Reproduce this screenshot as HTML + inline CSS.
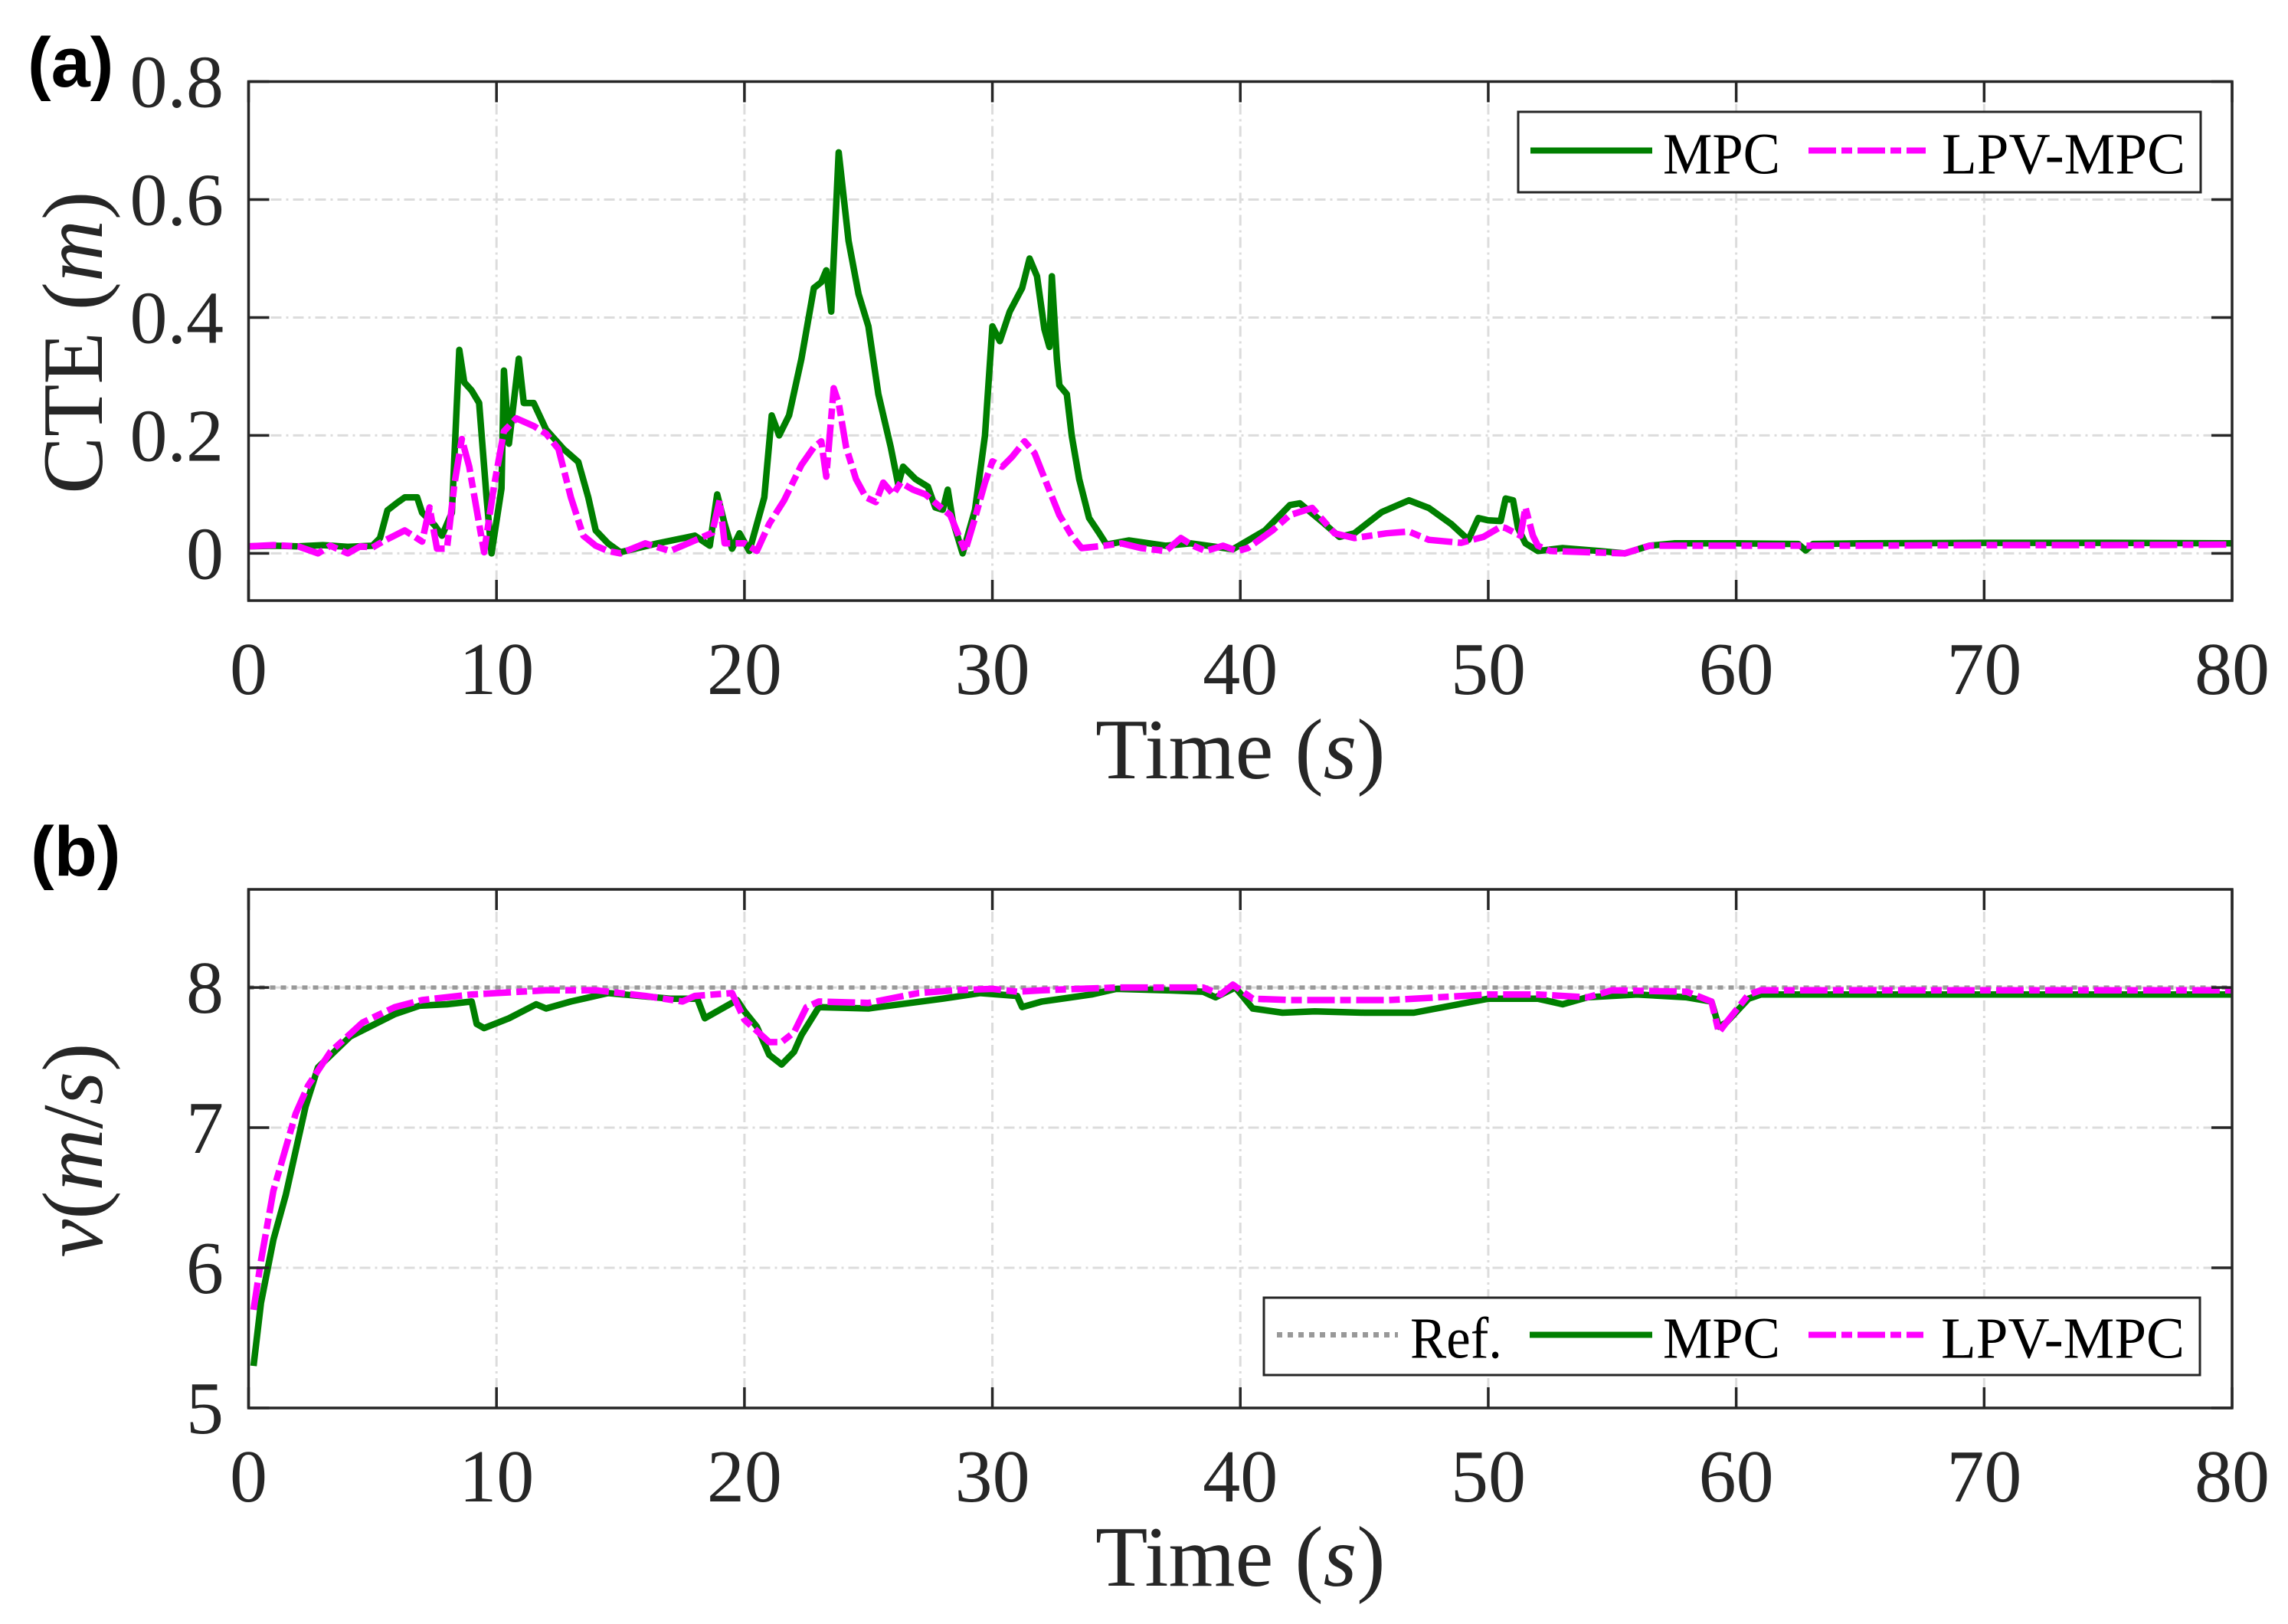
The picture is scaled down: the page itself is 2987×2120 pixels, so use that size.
<!DOCTYPE html>
<html><head><meta charset="utf-8"><style>
html,body{margin:0;padding:0;background:#fff;}
svg{display:block;}
text{font-family:"Liberation Serif",serif;fill:#262626;}
</style></head>
<body>
<svg id="fig" width="2987" height="2120" viewBox="0 0 2987 2120" xmlns="http://www.w3.org/2000/svg">
<rect x="0" y="0" width="2987" height="2120" fill="#fff"/>
<g id="pa"></g>
<g id="pb"></g>
<text x="36" y="113" style="font-family:'Liberation Sans',sans-serif;font-weight:bold;font-size:92px;fill:#000">(a)</text>
<text x="40" y="1143" style="font-family:'Liberation Sans',sans-serif;font-weight:bold;font-size:92px;fill:#000">(b)</text>
</svg>
<script>
// ---- Panel (a) data: cross-track error ----
const cteMpcT = [0,1,2,3,4,5,5.3,5.6,6,6.3,6.8,7,7.5,7.8,8.2,8.5,8.7,9,9.3,9.6,9.8,10.2,10.3,10.5,10.9,11.1,11.5,12,12.7,13.3,13.7,14,14.5,15,16.5,18,18.6,18.9,19.2,19.5,19.8,20.2,20.8,21.1,21.4,21.8,22.3,22.8,23.1,23.3,23.5,23.8,24.2,24.6,25,25.4,25.9,26.2,26.4,26.9,27.4,27.7,28,28.2,28.4,28.8,29.3,29.7,30,30.3,30.7,31.2,31.5,31.8,32.1,32.3,32.4,32.6,32.7,33,33.2,33.5,33.9,34.3,34.6,35.5,37,38,39.7,41,42,42.4,43.4,44,44.6,45.7,46.8,47.6,48.5,49.2,49.6,50,50.5,50.7,51,51.2,51.5,52,53,54.5,55.5,56.5,57.5,60,62.5,62.8,63.1,65,70,75,80];
const cteMpcV = [0.012,0.013,0.012,0.014,0.011,0.013,0.026,0.073,0.086,0.095,0.095,0.069,0.048,0.03,0.069,0.345,0.29,0.276,0.255,0.095,0.0,0.11,0.31,0.186,0.33,0.255,0.255,0.21,0.177,0.155,0.095,0.039,0.017,0.002,0.017,0.03,0.013,0.1,0.05,0.008,0.034,0.004,0.095,0.234,0.2,0.234,0.33,0.45,0.46,0.48,0.41,0.68,0.53,0.44,0.385,0.27,0.18,0.117,0.147,0.126,0.113,0.078,0.074,0.108,0.056,0.0,0.074,0.2,0.385,0.36,0.41,0.45,0.5,0.47,0.38,0.35,0.47,0.33,0.285,0.27,0.2,0.126,0.06,0.035,0.015,0.022,0.013,0.017,0.007,0.039,0.082,0.085,0.05,0.028,0.034,0.07,0.09,0.077,0.05,0.023,0.06,0.056,0.055,0.093,0.09,0.043,0.017,0.004,0.009,0.004,0.0,0.013,0.017,0.017,0.016,0.005,0.016,0.017,0.018,0.018,0.017,0.017];
const cteLpvT = [0,1,2,2.8,3.3,4,4.5,5,5.5,6.3,7,7.3,7.6,8,8.3,8.6,8.9,9.3,9.5,9.9,10.3,10.8,11.5,12,12.5,13,13.5,14,14.5,15,16,17,18,18.7,19,19.2,20,20.5,21,21.6,22.3,22.8,23.1,23.3,23.6,23.8,24.1,24.5,24.9,25.3,25.6,26,26.3,26.8,27.3,27.8,28.3,28.9,29.3,29.7,30,30.4,30.8,31.3,31.7,32.2,32.7,33.2,33.6,34.5,35.2,36,37,37.6,38.1,38.6,39.3,39.9,40.3,41.3,42,42.9,43.8,44.6,45.9,46.8,47.6,48.9,49.8,50.5,50.7,51.3,51.5,51.8,52,52.5,55.5,56.5,58,65,70,75,80];
const cteLpvV = [0.012,0.014,0.012,0.0,0.013,0.0,0.012,0.01,0.022,0.039,0.02,0.078,0.008,0.008,0.117,0.194,0.147,0.05,0.002,0.115,0.207,0.229,0.216,0.203,0.177,0.095,0.03,0.013,0.004,0.0,0.017,0.004,0.022,0.035,0.09,0.017,0.017,0.004,0.05,0.09,0.15,0.18,0.19,0.13,0.28,0.255,0.18,0.126,0.095,0.087,0.12,0.1,0.12,0.108,0.1,0.082,0.065,0.004,0.06,0.12,0.156,0.147,0.164,0.19,0.17,0.117,0.065,0.03,0.009,0.013,0.017,0.009,0.004,0.026,0.013,0.004,0.013,0.004,0.009,0.039,0.065,0.077,0.034,0.026,0.034,0.037,0.023,0.018,0.028,0.045,0.043,0.03,0.078,0.03,0.013,0.004,0.0,0.013,0.013,0.013,0.014,0.014,0.015];
const cteYTicks = [0,0.2,0.4,0.6,0.8];
const cteYLabels = ["0","0.2","0.4","0.6","0.8"];
// ---- Panel (b) data: velocity ----
const velMpcT = [0.2,0.5,1,1.5,2.3,2.8,4.1,5.9,6.9,8,9,9.2,9.5,10.5,11.6,12,13,14.5,17,18.1,18.4,19.7,20,20.5,21,21.5,22,22.3,23,25,28,29.5,31,31.2,32,34,35,37,38.5,39,39.8,40.5,41.7,43,45,47,50,52,53,54,56,58,59,59.3,59.6,60.5,61,65,70,75,80];
const velMpcV = [5.3,5.75,6.2,6.52,7.15,7.43,7.65,7.81,7.87,7.88,7.9,7.74,7.71,7.78,7.88,7.85,7.9,7.96,7.92,7.92,7.78,7.91,7.83,7.72,7.52,7.45,7.54,7.66,7.86,7.85,7.92,7.96,7.94,7.86,7.9,7.95,7.99,7.98,7.97,7.93,8.0,7.85,7.82,7.83,7.82,7.82,7.92,7.92,7.88,7.93,7.95,7.93,7.9,7.72,7.75,7.92,7.95,7.95,7.95,7.95,7.95];
const velLpvT = [0.2,0.5,1,1.9,2.4,3.3,4.6,5.9,7,9,10,12,14,16,17.5,18,19.5,20,21,21.5,22,22.5,23,25,27,28.5,30,31,32,35,38.5,39.2,39.7,40.5,42,44,46,48,50,52,54,55,58,59,59.3,59.6,60.5,61,65,70,75,80];
const velLpvV = [5.7,6.05,6.55,7.1,7.3,7.54,7.75,7.86,7.91,7.95,7.96,7.98,7.98,7.94,7.9,7.94,7.96,7.77,7.61,7.61,7.68,7.86,7.9,7.89,7.96,7.98,7.99,7.97,7.98,8.0,8.0,7.95,8.02,7.92,7.91,7.91,7.91,7.93,7.95,7.95,7.93,7.98,7.97,7.9,7.68,7.75,7.95,7.98,7.98,7.98,7.98,7.98];
const velRefT = [0,80];
const velRefV = [8,8];
const velYTicks = [5,6,7,8];
const velYLabels = ["5","6","7","8"];
const xTicks = [0,10,20,30,40,50,60,70,80];
const xLabels = ["0","10","20","30","40","50","60","70","80"];

const NS = "http://www.w3.org/2000/svg";
function mk(tag, attrs, parent){const e=document.createElementNS(NS,tag);for(const k in attrs)e.setAttribute(k,attrs[k]);parent.appendChild(e);return e;}

const X0=324.5, X1=2914;
function xs(t){return X0+(t-0)/(80-0)*(X1-X0);}
function makeY(vmin,vmax,ytop,ybot){return v=>ybot-(v-vmin)/(vmax-vmin)*(ybot-ytop);}

function drawPanel(g, ytop, ybot, vmin, vmax, yt, yl, ylabelText, series, legend){
  const ys = makeY(vmin,vmax,ytop,ybot);
  xTicks.forEach(t=>{ if(t>0&&t<80){const l=mk('line',{x1:xs(t),x2:xs(t),y1:ytop,y2:ybot,stroke:'#dcdcdc','stroke-width':3,'stroke-dasharray':'14 6 3 6'},g);
     }});
  yt.forEach(v=>{ const y=ys(v); if(y>ytop+2&&y<ybot-2){const l=mk('line',{x1:X0,x2:X1,y1:y,y2:y,stroke:'#dcdcdc','stroke-width':3,'stroke-dasharray':'14 6 3 6'},g);
     }});
  series.forEach(s=>{
    let d=''; s.t.forEach((t,i)=>{d+=(i?'L':'M')+xs(t).toFixed(1)+' '+ys(s.v[i]).toFixed(1);});
    const p=mk('path',{d:d,fill:'none',stroke:s.color,'stroke-width':s.w,'stroke-linejoin':'round','stroke-dasharray':s.dash||'none'},g);
     
  });
  const b=mk('rect',{x:X0,y:ytop,width:X1-X0,height:ybot-ytop,fill:'none',stroke:'#262626','stroke-width':3.5},g);
   
  xTicks.forEach((t,i)=>{
    mk('line',{x1:xs(t),x2:xs(t),y1:ybot,y2:ybot-27,stroke:'#262626','stroke-width':3.5},g);
    mk('line',{x1:xs(t),x2:xs(t),y1:ytop,y2:ytop+27,stroke:'#262626','stroke-width':3.5},g);
    const tx=mk('text',{x:xs(t),y:ybot+122,'text-anchor':'middle','font-size':98},g);
    tx.textContent=xLabels[i];
     
  });
  yt.forEach((v,i)=>{
    const y=ys(v);
    mk('line',{x1:X0,x2:X0+27,y1:y,y2:y,stroke:'#262626','stroke-width':3.5},g);
    mk('line',{x1:X1,x2:X1-27,y1:y,y2:y,stroke:'#262626','stroke-width':3.5},g);
    const tx=mk('text',{x:292,y:y+33,'text-anchor':'end','font-size':98},g);
    tx.textContent=yl[i];
     
  });
  const xl=mk('text',{x:(X0+X1)/2,y:ybot+232,'text-anchor':'middle','font-size':112},g);
  xl.innerHTML='Time (<tspan font-style="italic">s</tspan>)';
   
  const cy=(ytop+ybot)/2;
  const yl2=mk('text',{x:0,y:0,'text-anchor':'middle','font-size':112,transform:'translate(133,'+(cy+2)+') rotate(-90)'},g);
  yl2.innerHTML=ylabelText;
   
  const lg=mk('g',{},g);
   
  mk('rect',{x:legend.x,y:legend.y,width:legend.w,height:legend.h,fill:'#fff',stroke:'#262626','stroke-width':3},lg);
  legend.items.forEach(it=>{
    const ly=legend.y+legend.h/2-2;
    mk('line',{x1:it.lx1,x2:it.lx2,y1:ly,y2:ly,stroke:it.color,'stroke-width':it.w,'stroke-dasharray':it.dash||'none'},lg);
    const tx=mk('text',{x:it.tx,y:legend.y+legend.h/2+28,'font-size':76,textLength:it.tl,lengthAdjust:'spacingAndGlyphs'},lg);
    tx.style.fill='#000';
    tx.textContent=it.label;
     
  });
}

const green='#007f00', mag='#ff00ff';
const lpvDash='36 7 14 7';
drawPanel(document.getElementById('pa'),106.5,784,-0.08,0.8,cteYTicks,cteYLabels,
  'CTE (<tspan font-style="italic">m</tspan>)',
  [{name:'mpc-cte-line',t:cteMpcT,v:cteMpcV,color:green,w:8.5},
   {name:'lpv-mpc-cte-line',t:cteLpvT,v:cteLpvV,color:mag,w:8.5,dash:lpvDash}],
  {x:1982,y:146,w:891,h:105,items:[
    {lx1:1998,lx2:2157,color:green,w:8,tx:2171,tl:153,label:'MPC'},
    {lx1:2361,lx2:2514,color:mag,w:8,dash:lpvDash,tx:2535,tl:318,label:'LPV-MPC'}]});
drawPanel(document.getElementById('pb'),1161,1838,5,8.7,velYTicks,velYLabels,
  '<tspan font-style="italic">v</tspan>(<tspan font-style="italic">m</tspan>/<tspan font-style="italic">s</tspan>)',
  [{name:'reference-velocity-line',t:velRefT,v:velRefV,color:'#999999',w:5.5,dash:'7 7'},
   {name:'mpc-velocity-line',t:velMpcT,v:velMpcV,color:green,w:8.5},
   {name:'lpv-mpc-velocity-line',t:velLpvT,v:velLpvV,color:mag,w:8.5,dash:lpvDash}],
  {x:1650,y:1694,w:1222,h:101,items:[
    {lx1:1667,lx2:1825,color:'#999999',w:7,dash:'7 7',tx:1841,tl:120,label:'Ref.'},
    {lx1:1997,lx2:2157,color:green,w:8,tx:2171,tl:153,label:'MPC'},
    {lx1:2361,lx2:2511,color:mag,w:8,dash:lpvDash,tx:2534,tl:318,label:'LPV-MPC'}]});
</script>
</body></html>
